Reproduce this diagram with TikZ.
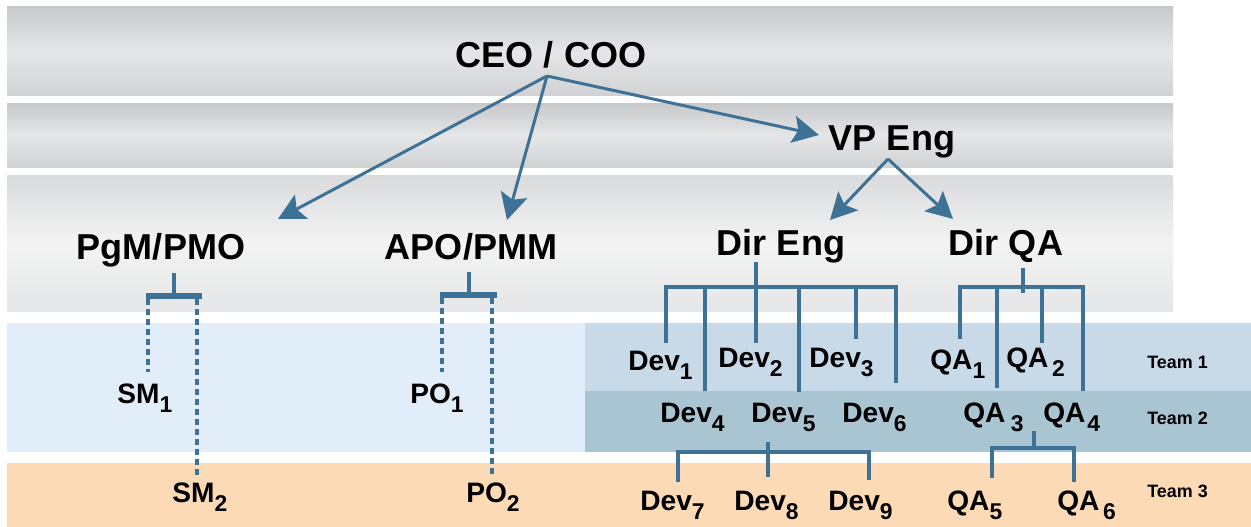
\documentclass[tikz,border=0pt]{standalone}
\usepackage{fontspec}
\setmainfont{Liberation Sans}
\usetikzlibrary{arrows.meta}
\definecolor{lineblue}{HTML}{3E7196}
\definecolor{gtop}{HTML}{C8C9CB}
\definecolor{gmid}{HTML}{E5E6E7}
\definecolor{gbot}{HTML}{D1D2D4}
\definecolor{g3top}{HTML}{D9DADC}
\definecolor{g3mid}{HTML}{F3F3F3}
\definecolor{g3bot}{HTML}{E5E6E7}
\definecolor{lightblue}{HTML}{E1EEFA}
\definecolor{teamone}{HTML}{C8D9E8}
\definecolor{teamtwo}{HTML}{A9C5D1}
\definecolor{teamthree}{HTML}{FBDAB5}
\newcommand\subx[1]{\raisebox{-0.34em}{\fontsize{13}{15}\selectfont #1}}
\tikzset{
  big/.style={font=\fontsize{20.5}{24}\selectfont\bfseries, inner sep=0pt, anchor=base},
  mid/.style={font=\fontsize{16}{19}\selectfont\bfseries, inner sep=0pt, anchor=base west},
  teamlbl/.style={font=\fontsize{10.2}{12}\selectfont\bfseries, inner sep=0pt, anchor=base west},
  arr/.style={draw=lineblue, line width=1.7pt, -{Stealth[length=15pt, width=15.5pt, inset=3pt]}},
  br/.style={draw=lineblue, line width=2.5pt},
  brbar/.style={draw=lineblue, line width=3.4pt},
  dsh/.style={draw=lineblue, line width=2.2pt, dash pattern=on 3.4pt off 2.3pt},
  grayband/.style={top color=gtop, bottom color=gbot, middle color=gmid},
  lightband/.style={top color=g3top, bottom color=g3bot, middle color=g3mid}
}
\begin{document}
\begin{tikzpicture}[x=0.02cm, y=-0.02cm]
\useasboundingbox (0,0) rectangle (1251,527);
% bands
\shade[grayband] (7,7) rectangle (1173,96);
\shade[grayband] (7,104) rectangle (1173,167);
\shade[lightband] (7,175) rectangle (1173,311);
\fill[lightblue] (7,323) rectangle (585,452);
\fill[teamone] (585,323) rectangle (1251,391);
\fill[teamtwo] (585,391) rectangle (1251,452);
\fill[teamthree] (7,463) rectangle (1251,527);
% main nodes
\node[big] (ceo) at (551,68) {CEO / COO};
\node[big] (vp) at (892,151) {VP Eng};
\node[big] (pgm) at (161,259) {PgM/PMO};
\node[big] (apo) at (471,259) {APO/PMM};
\node[big] (de) at (781,255) {Dir Eng};
\node[big] (dq) at (1006,255) {Dir QA};
% small nodes
\node[mid] (sm1) at (117,403) {SM\subx{1}};
\node[mid] (sm2) at (172,502) {SM\subx{2}};
\node[mid] (po1) at (410,403) {PO\subx{1}};
\node[mid] (po2) at (466,502) {PO\subx{2}};
\node[mid] (d1) at (628,370) {Dev\subx{1}};
\node[mid] (d2) at (718,367) {Dev\subx{2}};
\node[mid] (d3) at (809,367) {Dev\subx{3}};
\node[mid] (q1) at (930,369) {QA\subx{1}};
\node[mid] (q2) at (1006,367) {QA\kern2pt\subx{2}};
\node[mid] (d4) at (660,422) {Dev\subx{4}};
\node[mid] (d5) at (751,422) {Dev\subx{5}};
\node[mid] (d6) at (842,422) {Dev\subx{6}};
\node[mid] (q3) at (963,422) {QA\kern3pt\subx{3}};
\node[mid] (q4) at (1043,422) {QA\kern1pt\subx{4}};
\node[mid] (d7) at (640,510) {Dev\subx{7}};
\node[mid] (d8) at (734,510) {Dev\subx{8}};
\node[mid] (d9) at (828,510) {Dev\subx{9}};
\node[mid] (q5) at (947,510) {QA\subx{5}};
\node[mid] (q6) at (1057,510) {QA\kern2pt\subx{6}};
\node[teamlbl] (t1) at (1147,368) {Team 1};
\node[teamlbl] (t2) at (1147,424) {Team 2};
\node[teamlbl] (t3) at (1147,497) {Team 3};
% arrow coordinates
\coordinate (ceoS) at (547,76);
\coordinate (pgmT) at (278,219);
\coordinate (apoT) at (507,220);
\coordinate (vpT) at (819,135);
\coordinate (vpS) at (888,159);
\coordinate (deT) at (830,220);
\coordinate (dqT) at (953,219);
\draw[arr] (ceoS) -- (pgmT);
\draw[arr] (ceoS) -- (apoT);
\draw[arr] (ceoS) -- (vpT);
\draw[arr] (vpS) -- (deT);
\draw[arr] (vpS) -- (dqT);
% PgM bracket
\coordinate (pgmS) at (174,273);
\coordinate (pgmJ) at (174,296);
\coordinate (pgmL) at (146,296);
\coordinate (pgmR) at (202,296);
\coordinate (sm1T) at (148,372);
\coordinate (sm2T) at (197,476);
\draw[br] (pgmS) -- (pgmJ);
\draw[brbar] (pgmL) -- (pgmR);
\draw[dsh] (148,299) -- (sm1T);
\draw[dsh] (197,299) -- (sm2T);
% APO bracket
\coordinate (apoS) at (469,272);
\coordinate (apoJ) at (469,295);
\coordinate (apoL) at (440,295);
\coordinate (apoR) at (497,295);
\coordinate (po1T) at (442,372);
\coordinate (po2T) at (492,476);
\draw[br] (apoS) -- (apoJ);
\draw[brbar] (apoL) -- (apoR);
\draw[dsh] (442,298) -- (po1T);
\draw[dsh] (492,298) -- (po2T);
% Dir Eng bracket
\draw[br, line join=miter] (666,343) -- (666,287) -- (896,287) -- (896,383);
\draw[br] (705,287) -- (705,391);
\draw[br] (756,262) -- (756,343);
\draw[br] (799,287) -- (799,392);
\draw[br] (856,287) -- (856,339);
% Dir QA bracket
\draw[br, line join=miter] (960,339) -- (960,287) -- (1083,287) -- (1083,391);
\draw[br] (997,287) -- (997,388);
\draw[br] (1042,287) -- (1042,343);
\draw[br] (1023,268) -- (1023,293);
% Dev7-9 bracket
\draw[br, line join=miter] (678,482) -- (678,452) -- (869,452) -- (869,480);
\draw[br] (768,442) -- (768,477);
% QA5-6 bracket
\draw[br, line join=miter] (992,478) -- (992,448) -- (1074,448) -- (1074,482);
\draw[br] (1034,431) -- (1034,448);
\end{tikzpicture}
\end{document}
